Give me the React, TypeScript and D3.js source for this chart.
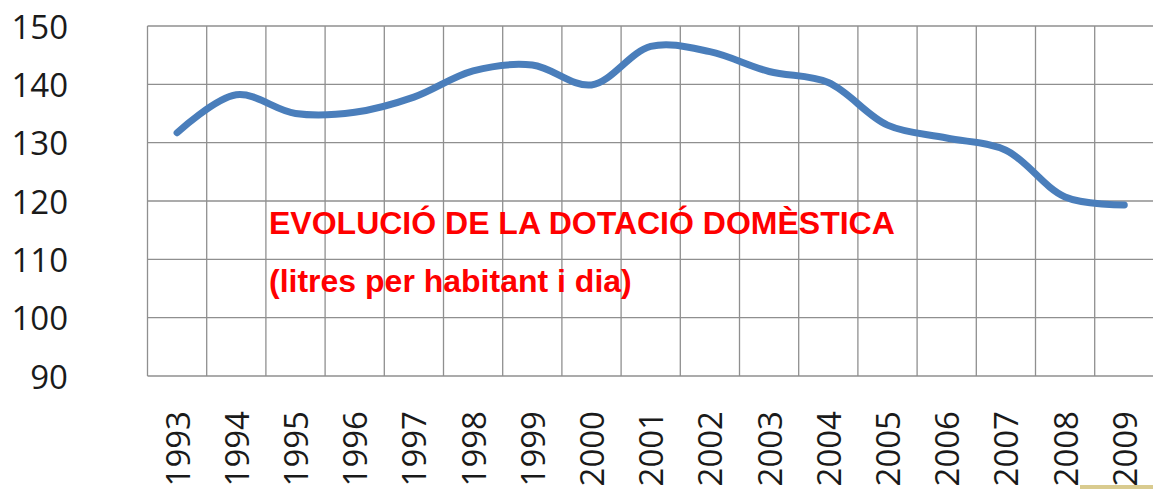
import React from 'react';
import * as d3 from 'd3';

const years = ['1993', '1994', '1995', '1996', '1997', '1998', '1999', '2000', '2001',
  '2002', '2003', '2004', '2005', '2006', '2007', '2008', '2009'];
const dotacio = [131.7, 138.2, 135.0, 135.2, 137.8, 142.3, 143.3, 139.9, 146.5,
  145.6, 142.2, 140.3, 133.0, 130.8, 128.7, 120.7, 119.3];
const yTicks = [90, 100, 110, 120, 130, 140, 150];
const titleLines = ['EVOLUCIÓ DE LA DOTACIÓ DOMÈSTICA', '(litres per habitant i dia)'];

const W = 1153;
const H = 489;

const App = () => {
  const left = 147.5;
  const bandW = 59.2;
  const xscale = d3.scaleBand<string>()
    .domain(years)
    .range([left, left + bandW * years.length]);
  const yscale = d3.scaleLinear()
    .domain([90, 150])
    .range([376, 26]);

  const line = d3.line<number>()
    .x((d, i) => xscale(years[i])! + xscale.bandwidth() / 2)
    .y(d => yscale(d))
    .curve(d3.curveCatmullRom.alpha(0.5));

  const right = left + bandW * years.length;
  const gridColor = '#8f8f8f';

  return (
    <div style={{ position: 'fixed', left: 0, top: 0, width: W, height: H, background: '#fff' }}>
      <svg width={W} height={H}>
        <rect x={0} y={0} width={W} height={H} fill="#fff" />
        {/* horizontal grid */}
        {yTicks.map(t => (
          <line key={'h' + t} x1={left} x2={right} y1={yscale(t)} y2={yscale(t)}
            stroke={gridColor} strokeWidth={1.3} />
        ))}
        {/* vertical grid */}
        {years.map(y => (
          <line key={'v' + y} x1={xscale(y)} x2={xscale(y)} y1={yscale(150)} y2={yscale(90)}
            stroke={gridColor} strokeWidth={1.3} />
        ))}
        {/* y labels */}
        {yTicks.map(t => (
          <text key={'yl' + t} x={68} y={yscale(t)} textAnchor="end" dominantBaseline="central"
            fontFamily="'Open Sans', sans-serif" fontSize={33} fill="#1a1a1a">{t}</text>
        ))}
        {/* x labels */}
        {years.map(y => (
          <text key={'xl' + y} transform={`translate(${xscale(y)! + xscale.bandwidth() / 2},411) rotate(-90)`}
            textAnchor="end" dominantBaseline="central"
            fontFamily="'Open Sans', sans-serif" fontSize={33} fill="#1a1a1a">{y}</text>
        ))}
        {/* title */}
        {titleLines.map((l, i) => (
          <text key={'t' + i} x={269} y={234 + i * 58} fontFamily="'Liberation Sans', Arial, sans-serif"
            fontWeight="bold" fontSize={32} fill="#ff0000">{l}</text>
        ))}
        <path d={line(dotacio)!} fill="none" stroke="#4a7ebb" strokeWidth={7} strokeLinecap="round" />
        <rect x={1080} y={485} width={73} height={4} fill="#d9cb8f" />
      </svg>
    </div>
  );
};

export default App;
